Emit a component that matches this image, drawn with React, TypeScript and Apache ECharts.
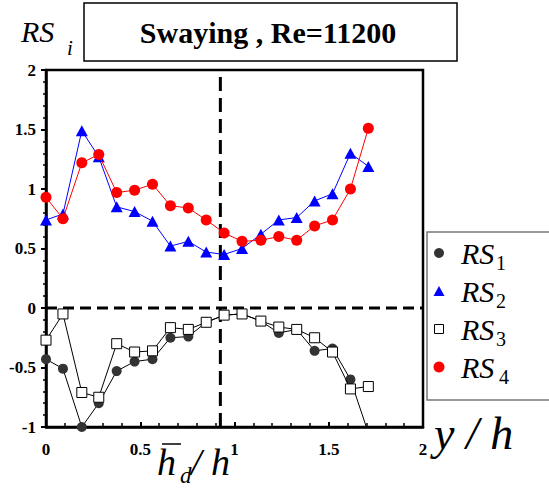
import React, { useEffect, useRef } from "react";
import * as echarts from "echarts";

// y / h positions of the measurement points
const yOverH = [0, 0.09, 0.19, 0.28, 0.375, 0.47, 0.565, 0.66, 0.755, 0.85, 0.945, 1.04, 1.14, 1.235, 1.33, 1.425, 1.52, 1.615, 1.71];
const RS1 = [-0.43, -0.51, -1.0, -0.8, -0.53, -0.45, -0.43, -0.25, -0.24, -0.12, -0.06, -0.05, -0.11, -0.21, -0.18, -0.36, -0.34, -0.6, -1.05];
const RS2 = [0.74, 0.79, 1.49, 1.27, 0.85, 0.81, 0.73, 0.52, 0.56, 0.47, 0.45, 0.5, 0.62, 0.74, 0.76, 0.9, 0.96, 1.3, 1.19];
const RS3 = [-0.27, -0.05, -0.71, -0.75, -0.3, -0.37, -0.36, -0.165, -0.18, -0.12, -0.06, -0.05, -0.11, -0.16, -0.18, -0.25, -0.37, -0.68, -0.66];
const RS4 = [0.93, 0.75, 1.22, 1.29, 0.97, 0.99, 1.04, 0.86, 0.84, 0.74, 0.63, 0.56, 0.57, 0.6, 0.57, 0.69, 0.74, 1.0, 1.51];
const hdOverH = 0.925;
const xTicks = ["0", "0.5", "1", "1.5", "2"];
const yTicks = ["-1", "-0.5", "0", "0.5", "1", "1.5", "2"];
const titleText = "Swaying , Re=11200";

const SERIF = "'Liberation Serif', 'Times New Roman', Times, 'Noto Serif', 'DejaVu Serif', serif";

export default function App() {
  const ref = useRef<HTMLDivElement>(null);
  useEffect(() => {
    if (!ref.current) return;
    const chart = echarts.init(ref.current, undefined, { renderer: "svg" });
    const pts = (v: number[]) => yOverH.map((x, i) => [x, v[i]]);
    const tickFmt = (list: string[]) => (val: number) => {
      const s = String(val);
      return list.includes(s) ? s : "";
    };
    const legendRows = [
      { y: 253, sub: "1", sx: 496 },
      { y: 291, sub: "2", sx: 496 },
      { y: 329, sub: "3", sx: 496 },
      { y: 367, sub: "4", sx: 499 },
    ];
    const txt = (x: number, y: number, text: string, fontSize: number, fontStyle = "normal", fontWeight = "normal", align = "left") => ({
      type: "text", x, y,
      style: { text, fontFamily: SERIF, fontSize, fontStyle, fontWeight, fill: "#000", align, verticalAlign: "middle" },
    });
    const graphic: any[] = [
      // title box
      { type: "rect", shape: { x: 84, y: 3, width: 373, height: 58 }, style: { fill: "#fff", stroke: "#000", lineWidth: 1.5 } },
      txt(268, 32, titleText, 30, "normal", "bold", "center"),
      // RS_i
      txt(21, 31, "RS", 30, "italic"),
      txt(67, 48, "i", 21, "italic"),
      // y / h
      txt(434, 433, "y / h", 46, "italic"),
      // h_d / h
      txt(157, 462, "h", 38, "italic"),
      { type: "line", shape: { x1: 162, y1: 444, x2: 181, y2: 444 }, style: { stroke: "#000", lineWidth: 1.5 } },
      txt(180, 475, "d", 23, "italic"),
      txt(191, 462, "/ h", 38, "italic"),
      // legend box
      { type: "rect", shape: { x: 427, y: 232, width: 140, height: 168 }, style: { fill: "#fff", stroke: "#777", lineWidth: 1.5 } },
      { type: "circle", shape: { cx: 439, cy: 253, r: 5 }, style: { fill: "#333" } },
      { type: "polygon", shape: { points: [[439, 286], [444.5, 296], [433.5, 296]] }, style: { fill: "#0000ff" } },
      { type: "rect", shape: { x: 434.5, y: 324.5, width: 9, height: 9 }, style: { fill: "#fff", stroke: "#000", lineWidth: 1 } },
      { type: "circle", shape: { cx: 439, cy: 367, r: 5.5 }, style: { fill: "#ff0000" } },
    ];
    legendRows.forEach((r) => {
      graphic.push(txt(461, r.y, "RS", 30, "italic"));
      graphic.push(txt(r.sx, r.y + 10, r.sub, 20));
    });

    const option: any = {
      animation: false,
      grid: { left: 46, top: 70, right: 126, bottom: 62, show: true, borderColor: "#000", borderWidth: 2.5 },
      xAxis: {
        type: "value", min: 0, max: 2, interval: 0.5,
        axisLine: { show: true, onZero: false, lineStyle: { color: "#000", width: 2.5 } },
        axisTick: { show: true, inside: true, length: 5, lineStyle: { color: "#000", width: 2 } },
        minorTick: { show: true, splitNumber: 5, length: 4, lineStyle: { color: "#000", width: 1.5 } },
        splitLine: { show: false },
        axisLabel: { formatter: tickFmt(xTicks), fontFamily: SERIF, fontWeight: "bold", fontSize: 17, color: "#000", margin: 14 },
      },
      yAxis: {
        type: "value", min: -1, max: 2, interval: 0.5,
        axisLine: { show: true, onZero: false, lineStyle: { color: "#000", width: 2.5 } },
        axisTick: { show: true, inside: false, length: 5, lineStyle: { color: "#000", width: 2 } },
        minorTick: { show: true, splitNumber: 5, length: 3, lineStyle: { color: "#000", width: 1.5 } },
        splitLine: { show: false },
        axisLabel: { formatter: tickFmt(yTicks), fontFamily: SERIF, fontWeight: "bold", fontSize: 17, color: "#000", margin: 10 },
      },
      series: [
        {
          type: "line", name: "zero", data: [[0, 0], [2, 0]], symbol: "none", silent: true, z: 1,
          lineStyle: { color: "#000", width: 3, type: [11, 6] },
        },
        {
          type: "line", name: "hd", data: [[hdOverH, -1], [hdOverH, 2]], symbol: "none", silent: true, z: 1,
          lineStyle: { color: "#000", width: 3, type: [14, 7] },
        },
        {
          type: "line", name: "RS1", data: pts(RS1), symbol: "circle", symbolSize: 10, z: 2,
          itemStyle: { color: "#333" }, lineStyle: { color: "#000", width: 1 }, clip: true,
        },
        {
          type: "line", name: "RS2", data: pts(RS2), symbol: "triangle", symbolSize: [12, 11], z: 2,
          itemStyle: { color: "#0000ff" }, lineStyle: { color: "#0000ff", width: 1 }, clip: true,
        },
        {
          type: "line", name: "RS3", data: pts(RS3), symbol: "rect", symbolSize: 10, z: 3,
          itemStyle: { color: "#fff", borderColor: "#000", borderWidth: 1 }, lineStyle: { color: "#000", width: 1 }, clip: true,
        },
        {
          type: "line", name: "RS4", data: pts(RS4), symbol: "circle", symbolSize: 11, z: 3,
          itemStyle: { color: "#ff0000" }, lineStyle: { color: "#ff0000", width: 1 }, clip: true,
        },
      ],
      graphic,
    };
    chart.setOption(option);
    return () => chart.dispose();
  }, []);
  return <div ref={ref} style={{ position: "absolute", left: 0, top: 0, width: 549, height: 489 }} />;
}
